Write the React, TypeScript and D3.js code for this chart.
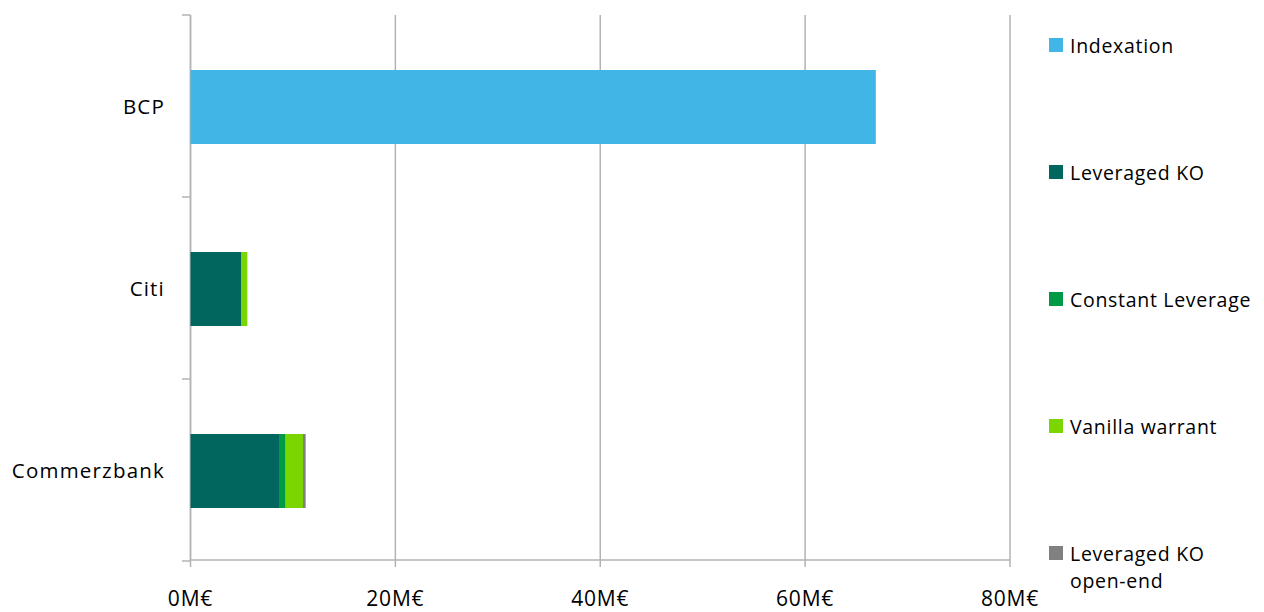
import React from "react";
import * as d3 from "d3";

const categories = ["BCP", "Citi", "Commerzbank"];
const seriesNames = ["Indexation", "Leveraged KO", "Constant Leverage", "Vanilla warrant", "Leveraged KO open-end"];
const legendLines = [["Indexation"], ["Leveraged KO"], ["Constant Leverage"], ["Vanilla warrant"], ["Leveraged KO", "open-end"]];
const seriesColors = ["#41B6E6", "#00665E", "#009A44", "#7AD500", "#808080"];
const indexation = [66.9, 0, 0];
const leveragedKO = [0, 4.93, 8.64];
const constantLeverage = [0, 0, 0.65];
const vanillaWarrant = [0, 0.62, 1.69];
const leveragedKOOpenEnd = [0, 0, 0.26];
const xTicks = [0, 20, 40, 60, 80];

const seriesValues = [indexation, leveragedKO, constantLeverage, vanillaWarrant, leveragedKOOpenEnd];

export default function App() {
  const W = 1264, H = 612;
  const x = d3.scaleLinear().domain([0, 80]).range([190.5, 1010]);
  const y = d3.scaleBand().domain(categories).range([15, 561]).padding(0);
  const barH = 74;
  const font = "'Open Sans', sans-serif";
  const rows = categories.map((c, i) => {
    const obj: any = { cat: c };
    seriesNames.forEach((s, j) => (obj[s] = seriesValues[j][i]));
    return obj;
  });
  const stacked = d3.stack().keys(seriesNames)(rows);
  const gridColor = "#B3B3B3";
  const legendY = d3.scalePoint().domain(seriesNames).range([45, 553]);

  return (
    <svg width={W} height={H} style={{ position: "absolute", left: 0, top: 0, background: "#fff" }}>
      {xTicks.map((t) => (
        <line key={t} x1={x(t)} x2={x(t)} y1={15} y2={567} stroke={gridColor} strokeWidth={1.5} />
      ))}
      <line x1={190.5} x2={1010} y1={560} y2={560} stroke={gridColor} strokeWidth={1.5} />
      <line x1={190.5} x2={190.5} y1={15} y2={561} stroke={gridColor} strokeWidth={1.5} />
      {[0, 1, 2, 3].map((i) => {
        const yy = 15 + i * y.step();
        return <line key={i} x1={182} x2={190.5} y1={yy} y2={yy} stroke={gridColor} strokeWidth={1.5} />;
      })}
      {stacked.map((s, j) => (
        <g key={s.key}>
          {s.map((d, i) => {
            const w = x(d[1]) - x(d[0]);
            if (w <= 0) return null;
            const cy = (y(categories[i]) as number) + y.bandwidth() / 2 + 1;
            return (
              <rect key={i} x={x(d[0])} y={cy - barH / 2} width={w} height={barH} fill={seriesColors[j]} />
            );
          })}
        </g>
      ))}
      {categories.map((c) => (
        <text key={c} x={165} y={(y(c) as number) + y.bandwidth() / 2} textAnchor="end" dominantBaseline="central"
          fontFamily={font} fontSize={20.5} fill="#000" letterSpacing={1.2}>{c}</text>
      ))}
      {xTicks.map((t) => (
        <text key={t} x={x(t)} y={598} textAnchor="middle" dominantBaseline="central" fontFamily={font} fontSize={21}
          fill="#000" letterSpacing={0.8}>{`${t}M€`}</text>
      ))}
      {seriesNames.map((s, j) => {
        const ly = legendY(s) as number;
        return (
          <g key={s}>
            <rect x={1049} y={ly - 7} width={14} height={14} fill={seriesColors[j]} />
            {legendLines[j].map((line, k) => (
              <text key={k} x={1070} y={ly + k * 27} dominantBaseline="central" fontFamily={font} fontSize={19.5}
                fill="#000" letterSpacing={0.7}>{line}</text>
            ))}
          </g>
        );
      })}
    </svg>
  );
}
